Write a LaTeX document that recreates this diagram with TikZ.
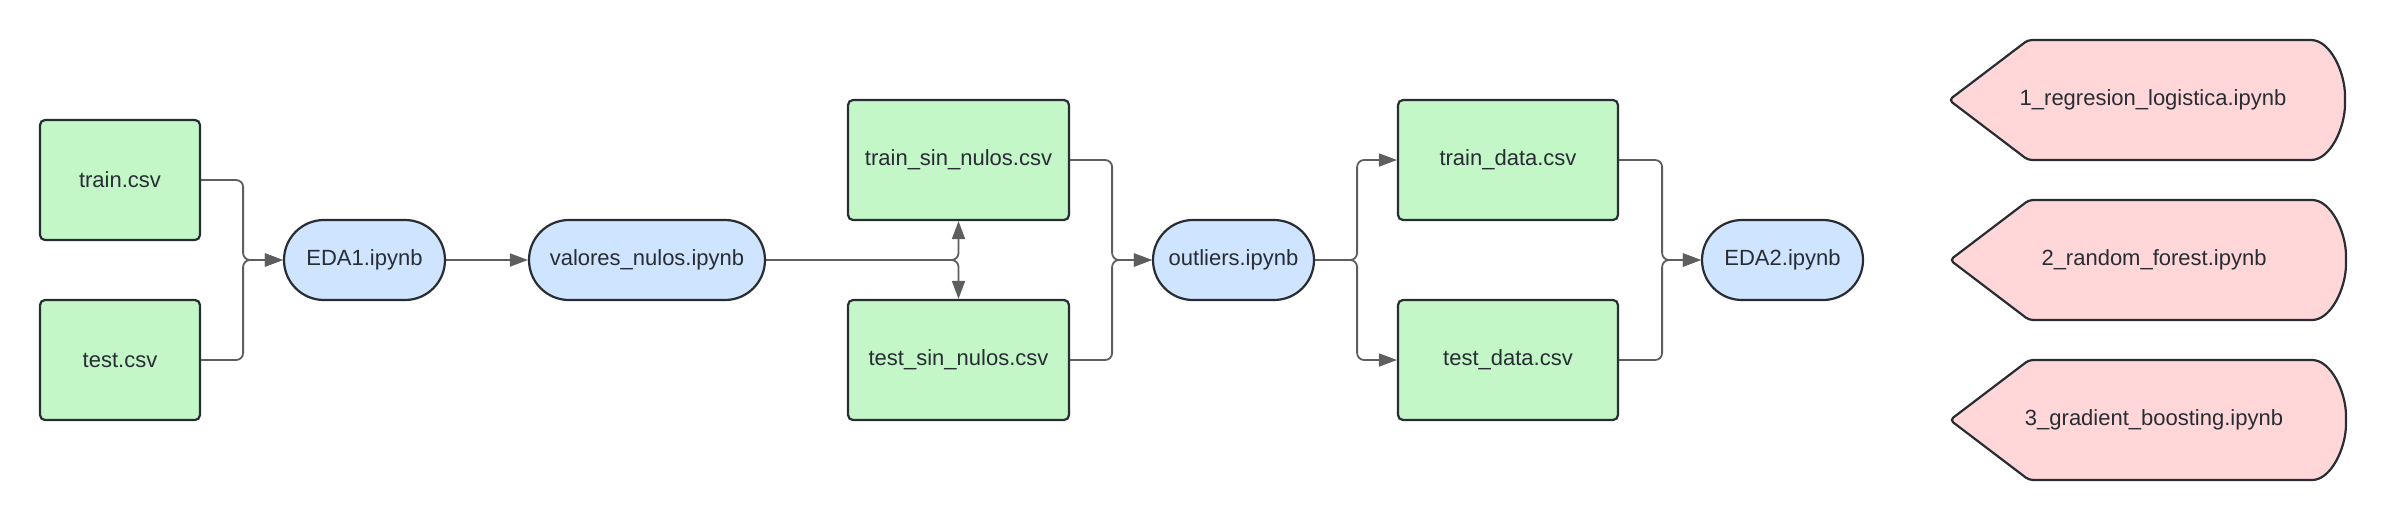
\documentclass[tikz,border=0pt]{standalone}
\usepackage{fontspec}
\setmainfont{Liberation Sans}
\usetikzlibrary{arrows.meta}
\definecolor{boxgreen}{HTML}{C3F7C8}
\definecolor{boxblue}{HTML}{CFE4FF}
\definecolor{boxpink}{HTML}{FFD7D9}
\definecolor{edgecol}{HTML}{282C33}
\definecolor{conncol}{HTML}{5E5E5E}
\definecolor{txtcol}{HTML}{282C33}
\begin{document}
\begin{tikzpicture}[x=0.5pt,y=-0.5pt,
  base/.style={draw=edgecol,line width=1.1pt,text=txtcol,font=\fontsize{11pt}{13pt}\selectfont,inner sep=0pt,align=center},
  filebox/.style={base,fill=boxgreen,rectangle,rounded corners=2.5pt,minimum height=60pt},
  nbbox/.style={base,fill=boxblue,rectangle,rounded corners=20pt,minimum height=40pt},
  modelshape/.style={draw=edgecol,line width=1.1pt,fill=boxpink,rounded corners=2pt},
  modeltext/.style={text=txtcol,font=\fontsize{11pt}{13pt}\selectfont,inner sep=0pt},
  link/.style={draw=conncol,line width=0.9pt,rounded corners=3.5pt,-{Triangle[length=9pt,width=6.5pt]}}]
\useasboundingbox (0,0) rectangle (2386,520);

% files and notebooks
\node[filebox,minimum width=80pt] (train) at (120,180) {train.csv};
\node[filebox,minimum width=80pt] (test) at (120,360) {test.csv};
\node[nbbox,minimum width=80.5pt] (eda1) at (364.5,260) {EDA1.ipynb};
\node[nbbox,minimum width=118pt] (valores) at (647,260) {valores\_nulos.ipynb};
\node[filebox,minimum width=110.5pt] (tsn) at (958.5,160) {train\_sin\_nulos.csv};
\node[filebox,minimum width=110.5pt] (esn) at (958.5,360) {test\_sin\_nulos.csv};
\node[nbbox,minimum width=80.5pt] (outl) at (1233.5,260) {outliers.ipynb};
\node[filebox,minimum width=110pt] (trd) at (1508,160) {train\_data.csv};
\node[filebox,minimum width=110pt] (ted) at (1508,360) {test\_data.csv};
\node[nbbox,minimum width=80.5pt] (eda2) at (1782.5,260) {EDA2.ipynb};

% connectors
\draw[link] (train.east) -- ++(42,0) |- (eda1.west);
\draw[link] (test.east) -- ++(42,0) |- (eda1.west);
\draw[link] (eda1.east) -- (valores.west);
\draw[link] (valores.east) -| (tsn.south);
\draw[link] (valores.east) -| (esn.north);
\draw[link] (tsn.east) -- ++(42,0) |- (outl.west);
\draw[link] (esn.east) -- ++(42,0) |- (outl.west);
\draw[link] (outl.east) -- ++(42,0) |- (trd.west);
\draw[link] (outl.east) -- ++(42,0) |- (ted.west);
\draw[link] (trd.east) -- ++(43,0) |- (eda2.west);
\draw[link] (ted.east) -- ++(43,0) |- (eda2.west);

% model notebooks
\draw[modelshape] (1949,100) -- (2028,40) -- (2307,40)
  .. controls (2330,40) and (2345,72) .. (2345,100)
  .. controls (2345,128) and (2330,160) .. (2307,160) -- (2028,160) -- cycle;
\node[modeltext] (m1) at (2153,100) {1\_regresion\_logistica.ipynb};

\draw[modelshape] (1950,260) -- (2029,200) -- (2308,200)
  .. controls (2331,200) and (2346,232) .. (2346,260)
  .. controls (2346,288) and (2331,320) .. (2308,320) -- (2029,320) -- cycle;
\node[modeltext] (m2) at (2154,260) {2\_random\_forest.ipynb};

\draw[modelshape] (1950,420) -- (2029,360) -- (2308,360)
  .. controls (2331,360) and (2346,392) .. (2346,420)
  .. controls (2346,448) and (2331,480) .. (2308,480) -- (2029,480) -- cycle;
\node[modeltext] (m3) at (2154,420) {3\_gradient\_boosting.ipynb};
\end{tikzpicture}
\end{document}
